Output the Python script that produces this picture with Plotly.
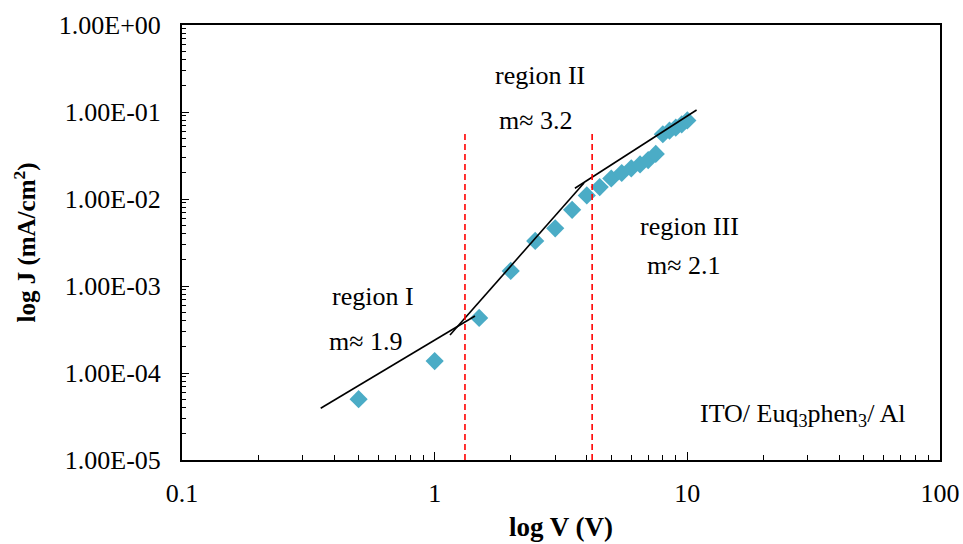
import numpy as np
import plotly.graph_objects as go

# Measured J-V data (ITO/ Euq3phen3/ Al device)
voltage = [0.5, 1.0, 1.5, 2.0, 2.5, 3.0, 3.5, 4.0, 4.5, 5.0, 5.5, 6.0, 6.5, 7.0, 7.5,
           8.0, 8.5, 9.0, 9.5, 10.0]
current_density = [5.0e-5, 1.37e-4, 4.3e-4, 1.49e-3, 3.3e-3, 4.6e-3, 7.5e-3, 1.1e-2,
                   1.37e-2, 1.72e-2, 1.99e-2, 2.25e-2, 2.5e-2, 2.8e-2, 3.3e-2,
                   5.55e-2, 6.1e-2, 6.6e-2, 7.2e-2, 8.0e-2]

# Power-law fit segments (start/end points) for the three conduction regions
fit_I_v = [0.354, 1.444]
fit_I_j = [3.93e-5, 4.52e-4]
fit_II_v = [1.15, 3.90]
fit_II_j = [2.73e-4, 1.53e-2]
fit_III_v = [3.59, 10.88]
fit_III_j = [1.33e-2, 1.054e-1]

# Region boundaries
boundary_v = [1.318, 4.20]
boundary_top_j = [0.0594, 0.0620]
boundary_bottom_j = 1e-5

# Axis tick labels
y_tickvals = [1e-5, 1e-4, 1e-3, 1e-2, 1e-1, 1e0]
y_ticktext = ["1.00E-05", "1.00E-04", "1.00E-03", "1.00E-02", "1.00E-01", "1.00E+00"]
x_tickvals = [0.1, 1, 10, 100]
x_ticktext = ["0.1", "1", "10", "100"]

FONT = "Liberation Serif, Times New Roman, serif"

fig = go.Figure()

fig.add_trace(go.Scatter(
    x=voltage, y=current_density, mode="markers",
    marker=dict(symbol="diamond", size=14, color="#4BACC6", line=dict(width=0)),
    showlegend=False,
))

for vx, jy in ((fit_I_v, fit_I_j), (fit_II_v, fit_II_j), (fit_III_v, fit_III_j)):
    fig.add_trace(go.Scatter(
        x=vx, y=jy, mode="lines",
        line=dict(color="black", width=1.6),
        showlegend=False,
    ))

for bv, bt in zip(boundary_v, boundary_top_j):
    fig.add_trace(go.Scatter(
        x=[bv, bv], y=[boundary_bottom_j, bt], mode="lines",
        line=dict(color="#FF0000", width=1.6, dash="6px,4px"),
        showlegend=False,
    ))

# Minor tick positions (2..9 within each decade)
x_minor = [m * 10.0 ** d for d in range(-1, 2) for m in range(2, 10)]
y_minor = [m * 10.0 ** d for d in range(-5, 0) for m in range(2, 10)]

fig.update_xaxes(
    type="log", range=[-1, 2], automargin=False,
    tickmode="array", tickvals=x_tickvals, ticktext=x_ticktext,
    ticks="inside", ticklen=8, tickwidth=1.3, tickcolor="black",
    minor=dict(tickmode="array", tickvals=x_minor, ticks="inside", ticklen=5,
               tickwidth=1.2, tickcolor="black", showgrid=False),
    showline=True, linecolor="black", linewidth=2, mirror=True,
    showgrid=False, zeroline=False,
    tickfont=dict(family=FONT, size=26, color="black"),
    ticklabelstandoff=9,
    title=dict(text="<b>log V (V)</b>", font=dict(family=FONT, size=27, color="black"),
               standoff=10),
)
fig.update_yaxes(
    type="log", range=[-5, 0], automargin=False,
    tickmode="array", tickvals=y_tickvals, ticktext=y_ticktext,
    ticks="inside", ticklen=7, tickwidth=1.3, tickcolor="black",
    minor=dict(tickmode="array", tickvals=y_minor, ticks="inside", ticklen=4,
               tickwidth=1.2, tickcolor="black", showgrid=False),
    showline=True, linecolor="black", linewidth=2, mirror=True,
    showgrid=False, zeroline=False,
    tickfont=dict(family=FONT, size=26, color="black"),
    ticklabelstandoff=14,
    title=dict(text="<b>log J (mA/cm<sup>2</sup>)</b>",
               font=dict(family=FONT, size=25, color="black"), standoff=16),
)

notes = [
    ("region II", 0.4167, -0.575),
    ("m≈ 3.2", 0.401, -1.092),
    ("region I", -0.243, -3.126),
    ("m≈ 1.9", -0.272, -3.64),
    ("region III", 1.0103, -2.318),
    ("m≈ 2.1", 0.9866, -2.759),
    ("ITO/ Euq<sub>3</sub>phen<sub>3</sub>/ Al", 1.457, -4.483),
]
for text, lx, ly in notes:
    fig.add_annotation(
        x=lx, y=ly, xref="x", yref="y", text=text, showarrow=False,
        xanchor="center", yanchor="middle",
        font=dict(family=FONT, size=26, color="black"),
    )

fig.update_layout(
    width=963, height=544,
    margin=dict(l=182, r=23, t=25, b=84),
    plot_bgcolor="white", paper_bgcolor="white",
)

fig.write_html("out.html")
